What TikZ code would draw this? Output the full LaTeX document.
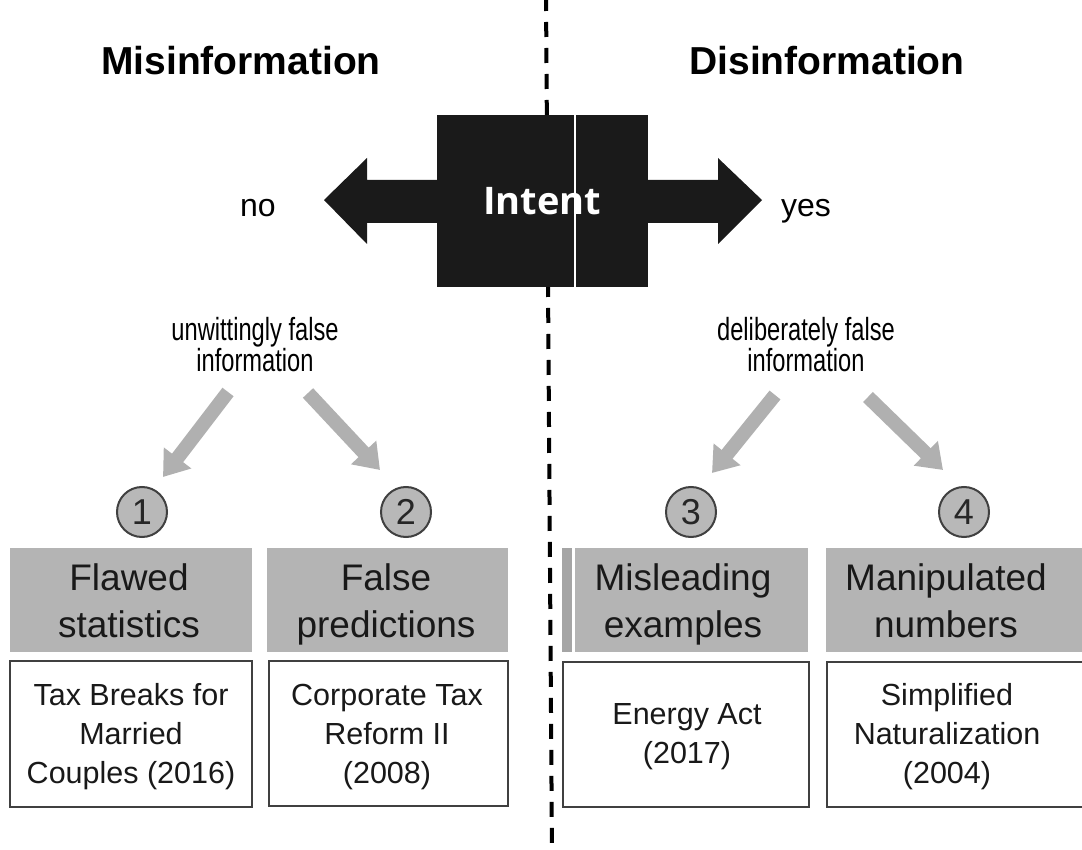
\documentclass[tikz,border=0pt]{standalone}
\usepackage{fontspec}
\setmainfont{Liberation Sans}
\newfontfamily\intentfont{Open Sans}
\newfontfamily\narrowfont{Liberation Sans}[FakeStretch=0.74]
\usetikzlibrary{arrows.meta}
\definecolor{boxgray}{HTML}{B4B4B4}
\definecolor{arrgray}{HTML}{B0B0B0}
\definecolor{circgray}{HTML}{B8B8B8}
\definecolor{edgegray}{HTML}{404040}
\definecolor{nearblack}{HTML}{1A1A1A}
\tikzset{
  hdr/.style={font=\fontsize{39}{45}\selectfont\bfseries, anchor=base, inner sep=0},
  lbl/.style={font=\fontsize{32}{32}\selectfont, anchor=base, inner sep=0, align=center},
  sublbl/.style={font=\narrowfont\fontsize{32}{32}\selectfont, anchor=base, inner sep=0, align=center},
  cat/.style={fill=boxgray, draw=none},
  cattext/.style={font=\fontsize{37}{47}\selectfont, anchor=base, inner sep=0, align=center, text=black!90},
  exbox/.style={draw=edgegray, line width=1.5pt, fill=white},
  extext/.style={font=\fontsize{30.5}{39}\selectfont, anchor=base, inner sep=0, align=center, text=black!90},
  num/.style={circle, draw=edgegray, line width=2pt, fill=circgray, minimum size=50pt, inner sep=0,
              font=\fontsize{36}{36}\selectfont, text=black!85},
  garrow/.style={draw=arrgray, line width=14pt, -{Triangle[width=33pt,length=24pt]}},
  divider/.style={line width=4pt, dash pattern=on 15pt off 11pt},
}
\begin{document}
\begin{tikzpicture}[x=1pt,y=-1pt]
\useasboundingbox (0,0) rectangle (1082,850);
\fill[white] (0,0) rectangle (1082,850);
% dividing line
\coordinate (dtop) at (546,-4);
\coordinate (dbot) at (552,856);
\draw[divider] (dtop) -- (dbot);
% headers
\node[hdr] (mis) at (241,75) {Misinformation};
\node[hdr] (dis) at (827,75) {Disinformation};
% big double arrow
\fill[nearblack] (324,200) -- (367,158) -- (367,180) -- (718,180) -- (718,158) -- (762,200)
  -- (718,244) -- (718,223) -- (367,223) -- (367,244) -- cycle;
\node[fill=nearblack, minimum width=211pt, minimum height=172pt, inner sep=0] (intent) at (542.5,201) {};
\draw[white, line width=2pt] (575,115) -- (575,287);
\node[font=\fontsize{38}{38}\selectfont\intentfont\bfseries, text=white, inner sep=0, anchor=base] (intentlbl) at (542,215) {Intent};
\node[lbl] (no) at (258,217) {no};
\node[lbl] (yes) at (806,217) {yes};
% sub labels
\node[sublbl] (unw) at (255,372) {unwittingly false\\information};
\node[sublbl] (del) at (806,372) {deliberately false\\information};
% numbered circles
\node[num] (c1) at (142,512) {1};
\node[num] (c2) at (406,512) {2};
\node[num] (c3) at (691,512) {3};
\node[num] (c4) at (964,512) {4};
% gray arrows
\coordinate (a1s) at (228,392); \coordinate (a1e) at (163,477);
\coordinate (a2s) at (308,393); \coordinate (a2e) at (380,470);
\coordinate (a3s) at (775,395); \coordinate (a3e) at (712,473);
\coordinate (a4s) at (868,397); \coordinate (a4e) at (943,470);
\draw[garrow] (a1s) -- (a1e);
\draw[garrow] (a2s) -- (a2e);
\draw[garrow] (a3s) -- (a3e);
\draw[garrow] (a4s) -- (a4e);
% category boxes
\fill[cat] (10,548) rectangle (252,652);
\fill[cat] (267,548) rectangle (508,652);
\fill[boxgray!92!black] (562,548) rectangle (572,652);
\fill[cat] (575,548) rectangle (808,652);
\fill[cat] (826,548) rectangle (1090,652);
\node[cattext] (k1) at (129,637) {Flawed\\statistics};
\node[cattext] (k2) at (386,637) {False\\predictions};
\node[cattext] (k3) at (683,637) {Misleading\\examples};
\node[cattext] (k4) at (946,637) {Manipulated\\numbers};
% example boxes
\draw[exbox] (10,661) rectangle (252,807);
\draw[exbox] (269,661) rectangle (508,806);
\draw[exbox] (563,662) rectangle (809,807);
\draw[exbox] (827,662) rectangle (1095,807);
\node[extext] (e1) at (131,783) {Tax Breaks for\\Married\\Couples (2016)};
\node[extext] (e2) at (387,783) {Corporate Tax\\Reform II\\(2008)};
\node[extext] (e3) at (687,763) {Energy Act\\(2017)};
\node[extext] (e4) at (947,783) {Simplified\\Naturalization\\(2004)};
\end{tikzpicture}
\end{document}
